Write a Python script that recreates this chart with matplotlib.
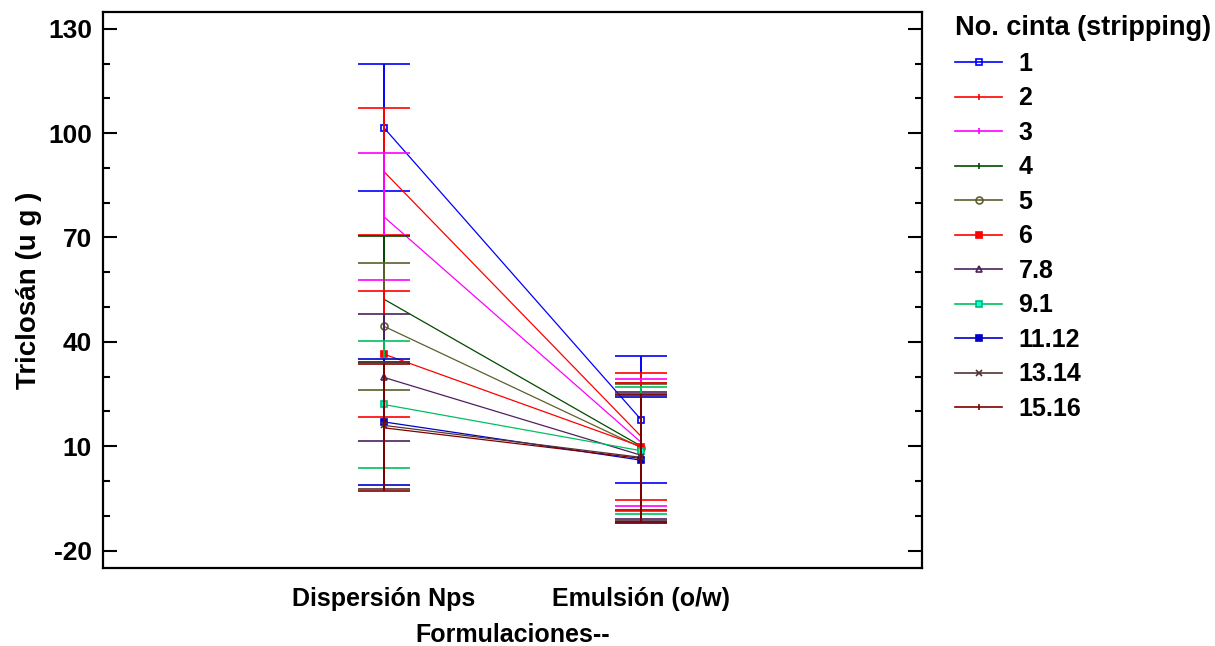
import numpy as np
import matplotlib
matplotlib.use("Agg")
import matplotlib.pyplot as plt
from matplotlib.lines import Line2D

plt.rcParams['font.family'] = ['Liberation Sans', 'DejaVu Sans']
plt.rcParams['font.weight'] = 'bold'
plt.rcParams['axes.unicode_minus'] = False

# Medias de triclosán por formulación y número de cinta
formulaciones = ["Dispersión Nps", "Emulsión (o/w)"]
cintas = ["1", "2", "3", "4", "5", "6", "7.8", "9.1", "11.12", "13.14", "15.16"]
media_nps = [101.6, 89.0, 76.0, 52.3, 44.5, 36.5, 29.8, 22.0, 17.0, 16.0, 15.3]
media_emu = [17.6, 12.8, 11.1, 10.0, 9.6, 9.9, 7.4, 8.7, 6.0, 6.8, 6.5]
semi_int = 18.2  # semiamplitud del intervalo (LSD)

colores = ['#0000ff', '#ff0000', '#ff00ff', '#004a00', '#5e5e2e', '#ff0000',
           '#4e2060', '#00c060', '#0000c8', '#553333', '#800000']
marcas = ['s', '|', '|', '|', 'o', 's', '^', 's', 's', 'x', '|']
caras = ['none', '#ff0000', '#ff00ff', '#004a00', 'none', '#ff0000',
         'none', '#00ffff', '#0000c8', '#553333', '#800000']

fig = plt.figure(figsize=(12.15, 6.46), dpi=100)
ax = fig.add_axes([0.0848, 0.1207, 0.674, 0.8607])

x = np.array([1, 2])
handles = []
for i, c in enumerate(cintas):
    y = np.array([media_nps[i], media_emu[i]])
    ax.errorbar(x, y, yerr=semi_int, color=colores[i], lw=0.9,
                elinewidth=1.4, capsize=18.5, capthick=1.4,
                marker=marcas[i], ms=5, mfc=caras[i], mec=colores[i],
                mew=1.2, zorder=2 + i)
    handles.append(Line2D([], [], color=colores[i], lw=1.2, marker=marcas[i],
                          ms=5, mfc=caras[i], mec=colores[i], mew=1.2))

ax.set_xlim(-0.09, 3.09)
ax.set_ylim(-25, 134.8)
ax.set_xticks(x)
ax.set_xticklabels(formulaciones)
ax.set_yticks([-20, 10, 40, 70, 100, 130])
ax.set_yticks(np.arange(-20, 131, 10), minor=True)
ax.tick_params(axis='x', length=0, labelsize=18, pad=14)
ax.tick_params(axis='y', which='major', direction='in', length=10, width=1.5,
               labelsize=19, right=True, pad=8)
ax.tick_params(axis='y', which='minor', direction='in', length=5, width=1.5,
               right=True)
for s in ax.spines.values():
    s.set_linewidth(1.6)

ax.set_xlabel("Formulaciones--", fontsize=18, fontweight='bold', labelpad=8)
ax.set_ylabel("Triclosán (u g )", fontsize=20, fontweight='bold', labelpad=4)

leg = ax.legend(handles, cintas, loc='upper left', bbox_to_anchor=(1.028, 1.012),
                frameon=False, title="No. cinta (stripping)", fontsize=18,
                handlelength=1.9, handletextpad=0.65, labelspacing=0.42,
                borderaxespad=0.0,
                title_fontproperties={'size': 19.5, 'weight': 'bold'})
leg._legend_box.align = "left"

fig.savefig("out.png", dpi=100)
